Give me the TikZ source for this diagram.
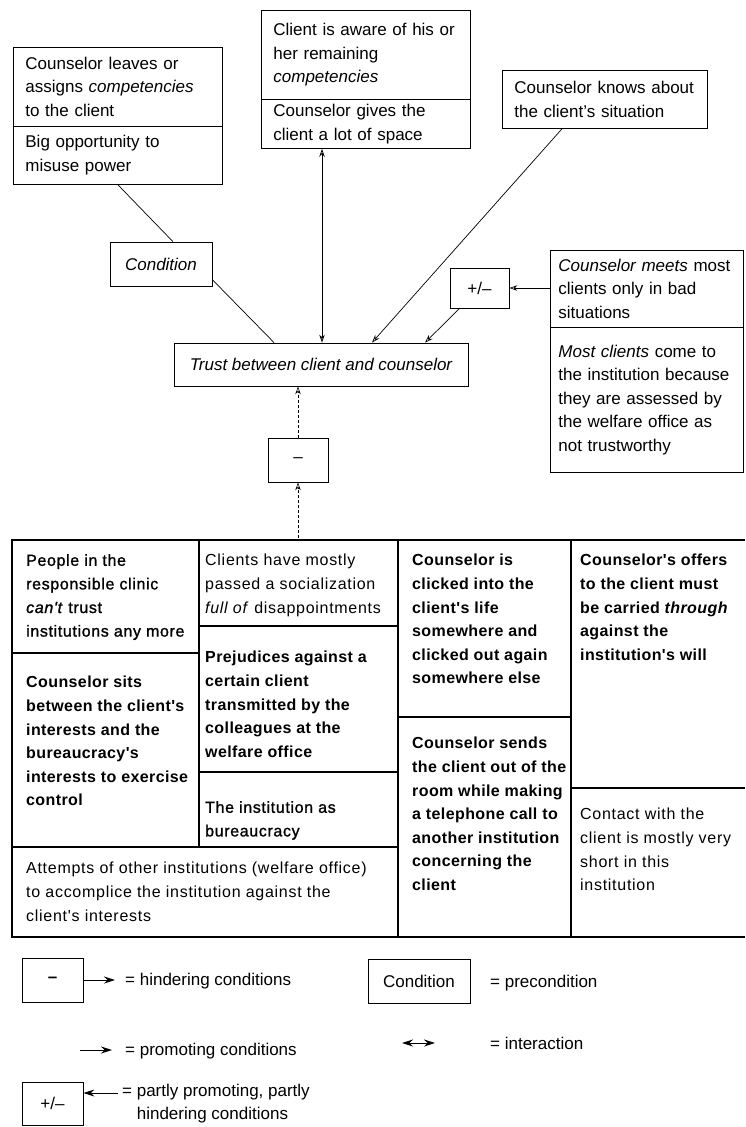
\documentclass[tikz,border=0pt]{standalone}
\usepackage{fontspec}
\setmainfont{Liberation Sans}
\newfontfamily\gridfont[LetterSpace=4.5]{Liberation Sans}
\newfontfamily\gridb[LetterSpace=2.5]{Liberation Sans}
\newfontfamily\gridmed[LetterSpace=4,FakeBold=1.2]{Liberation Sans}
\usetikzlibrary{arrows.meta}
\tikzset{
  box/.style={draw, line width=0.8pt, inner xsep=12pt, inner ysep=0pt, anchor=north west, align=left,
    font=\fontsize{17}{23.6}\selectfont},
  plainbox/.style={draw, line width=0.8pt, inner sep=0pt, font=\fontsize{17}{23.6}\selectfont},
  gridline/.style={line width=1.1pt},
  gtxt/.style={anchor=north west, inner sep=0pt, align=left},
  greg/.style={gtxt, font=\gridfont\fontsize{16}{23.6}\selectfont},
  gbold/.style={gtxt, font=\gridb\fontsize{16}{23.6}\selectfont\bfseries},
  gmed/.style={gtxt, font=\gridmed\fontsize{16}{23.6}\selectfont},
  conn/.style={line width=0.7pt},
  prom/.style={line width=0.7pt, -{Stealth[open,length=8pt,width=5.5pt]}},
  inter/.style={line width=0.8pt, {Stealth[open,length=8pt,width=5.5pt]}-{Stealth[open,length=8pt,width=5.5pt]}},
  dashline/.style={line width=0.6pt, densely dashed, -{Stealth[open,length=8pt,width=5.5pt]}},
  lab/.style={anchor=west, inner sep=0pt, align=left, font=\fontsize{17}{23}\selectfont},
  legarrow/.style={line width=1pt, -{Stealth[length=11pt,width=7pt]}},
  leginter/.style={line width=1pt, {Stealth[length=11pt,width=7pt]}-{Stealth[length=11pt,width=7pt]}}
}
\begin{document}
\begin{tikzpicture}[x=1pt,y=-1pt]
\useasboundingbox (0,0) rectangle (745,1127);

% ---------- upper boxes ----------
\node[box, minimum width=209pt, minimum height=79pt, text width=185pt] (tl1) at (13,47)
  {Counselor leaves or\\assigns \textit{competencies}\\to the client};
\node[box, minimum width=209pt, minimum height=58pt, text width=185pt] (tl2) at (13,126)
  {Big opportunity to\\misuse power};

\node[box, minimum width=209pt, minimum height=89pt, text width=185pt] (mid1) at (261,10)
  {Client is aware of his or\\her remaining\\\textit{competencies}};
\node[box, minimum width=209pt, minimum height=49pt, text width=185pt] (mid2) at (261,99)
  {Counselor gives the\\client a lot of space};

\node[box, minimum width=205pt, minimum height=58pt, text width=181pt] (rt) at (502,70)
  {Counselor knows about\\the client's situation};

\node[plainbox, minimum width=102pt, minimum height=44pt] (cond) at (161,264) {\itshape Condition};

\node[plainbox, minimum width=294pt, minimum height=43pt] (trust) at (321,364.5)
  {\itshape Trust between client and counselor};

\node[plainbox, minimum width=59pt, minimum height=40pt] (pm) at (479.5,288) {+/--};

\node[box, inner xsep=8pt, minimum width=193pt, minimum height=77pt, text width=177pt] (rb1) at (550,250)
  {\textit{Counselor meets} most\\clients only in bad\\situations};
\node[box, inner xsep=8pt, minimum width=193pt, minimum height=145pt, text width=177pt] (rb2) at (550,327)
  {\textit{Most clients} come to\\the institution because\\they are assessed by\\the welfare office as\\not trustworthy};

\node[plainbox, minimum width=60pt, minimum height=44pt] (minus) at (298,460) {--};

% ---------- connectors ----------
\draw[conn] (tl2.south) -- (cond.62);
\draw[conn] (cond.-17) -- (trust.155);
\draw[inter] ([xshift=61pt]mid2.south west) -- ([xshift=61pt]mid2.south west |- trust.north);
\draw[prom] ([xshift=60pt]rt.south west) -- ([xshift=51pt]trust.north);
\draw[prom] (pm.east -| rb1.west) -- (pm.east);
\draw[prom] ([xshift=10pt]pm.south west) -- ([xshift=104pt]trust.north);
\coordinate (gsrc) at (298,538);
\draw[dashline] (gsrc) -- (minus.south);
\draw[dashline] (minus.north) -- (minus.north |- trust.south);

% ---------- grid ----------
\draw[gridline] (745,540) -- (12,540) -- (12,937) -- (745,937);
\draw[gridline] (199,540) -- (199,847);
\draw[gridline] (12,653) -- (199,653);
\draw[gridline] (199,626) -- (398,626);
\draw[gridline] (199,772) -- (398,772);
\draw[gridline] (12,847) -- (398,847);
\draw[gridline] (398,540) -- (398,937);
\draw[gridline] (398,717) -- (571,717);
\draw[gridline] (571,540) -- (571,937);
\draw[gridline] (571,788) -- (745,788);

\node[gmed] (c11) at (26,554) {People in the\\responsible clinic\\\textit{can't} trust\\institutions any more};
\node[gbold] (c12) at (26,676) {Counselor sits\\between the client's\\interests and the\\bureaucracy's\\interests to exercise\\control};
\node[greg] (c21) at (205,554) {Clients have mostly\\passed a socialization\\\textit{full of} disappointments};
\node[gbold] (c22) at (205,651) {Prejudices against a\\certain client\\transmitted by the\\colleagues at the\\welfare office};
\node[gmed] (c23) at (205,801) {The institution as\\bureaucracy};
\node[greg] (c3) at (26,862) {Attempts of other institutions (welfare office)\\to accomplice the institution against the\\client's interests};
\node[gbold] (c31) at (412,554) {Counselor is\\clicked into the\\client's life\\somewhere and\\clicked out again\\somewhere else};
\node[gbold] (c32) at (412,737) {Counselor sends\\the client out of the\\room while making\\a telephone call to\\another institution\\concerning the\\client};
\node[gbold] (c41) at (580,554) {Counselor's offers\\to the client must\\be carried \textit{through}\\against the\\institution's will};
\node[greg] (c42) at (580,808) {Contact with the\\client is mostly very\\short in this\\institution};

% ---------- legend ----------
\node[plainbox, minimum width=61pt, minimum height=44pt] (lminus) at (52.5,980) {\bfseries --};
\coordinate (lme) at (115,980);
\draw[legarrow] (lminus.east) -- (lme);
\node[lab] (l1) at (125,981) {= hindering conditions};

\coordinate (pa) at (80,1050);
\coordinate (pb) at (112,1050);
\draw[legarrow] (pa) -- (pb);
\node[lab] (l2) at (125,1051) {= promoting conditions};

\node[plainbox, minimum width=61pt, minimum height=43pt] (lpm) at (52.5,1103.5) {+/--};
\coordinate (pms) at (118,1093);
\draw[legarrow] (pms) -- (lpm.east |- pms);
\node[lab] (l3) at (122,1104) {= partly promoting, partly\\\phantom{= }hindering conditions};

\node[plainbox, minimum width=102pt, minimum height=44pt] (lcond) at (419,981) {Condition};
\node[lab] (l4) at (490,983) {= precondition};

\coordinate (ia) at (402,1043);
\coordinate (ib) at (435,1043);
\draw[leginter] (ia) -- (ib);
\node[lab] (l5) at (490,1043) {= interaction};
\end{tikzpicture}
\end{document}
